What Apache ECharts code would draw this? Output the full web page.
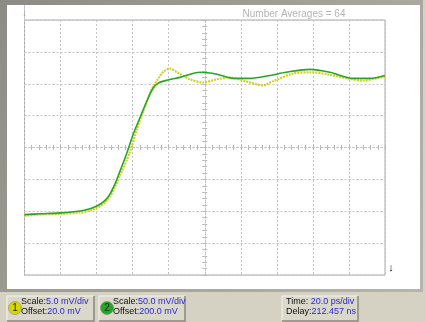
<!DOCTYPE html>
<html><head><meta charset="utf-8">
<script src="https://cdn.jsdelivr.net/npm/echarts@6/dist/echarts.min.js"></script>
<style>html,body{margin:0;padding:0;background:#d5d2c4;}#c{width:426px;height:322px;}</style>
</head><body><div id="c"></div>
<script>
// Time axis (ps), 20 ps/div, 10 divisions
const timePs = [0, 8.6, 19.7, 30.8, 36.3, 39.1, 41.9, 44.7, 47.4, 50.2, 53, 56.9, 60.2, 64.1, 67.9, 71.3, 74, 79, 86.3, 97.4, 106.8, 115.7, 125.1, 136.2, 145.1, 158.4, 169.5, 182.3, 191.7, 200];
// Channel 2 (green), mV — 50 mV/div, offset 200 mV
const ch2mV = [94.7, 96, 97.5, 100.5, 104, 107, 111, 117, 127, 143, 163, 192, 220, 247, 273, 293, 300.6, 305.5, 310, 318, 315, 308.5, 308.5, 313, 318, 322.6, 318, 308.5, 308.5, 313];
// Channel 1 (yellow)
const timePs1 = [0, 8.6, 19.7, 30.8, 36.3, 39.1, 41.9, 44.7, 47.4, 50.2, 53, 58.5, 62.4, 66.9, 70.7, 73.5, 76.8, 80.7, 84.6, 91.8, 99, 106.8, 114, 121.2, 129, 132.3, 137.9, 149, 158.4, 167.8, 178.9, 187.8, 198.9, 200];
// mV — 5 mV/div, offset 20 mV
const ch1mV = [9.3, 9.5, 9.6, 9.8, 10.1, 10.4, 10.8, 11.4, 12.3, 13.8, 15.6, 19.3, 22.9, 26.5, 29.2, 30.5, 31.8, 32.4, 31.8, 30.7, 30.2, 30.7, 31, 30.5, 29.9, 29.75, 30.4, 31.6, 31.8, 31.5, 30.85, 30.5, 31, 31];

const ch1Label = ['Scale:', '5.0 mV/div', 'Offset:', '20.0 mV'];
const ch2Label = ['Scale:', '50.0 mV/div', 'Offset:', '200.0 mV'];
const timeLabel = ['Time: ', '20.0 ps/div', 'Delay:', '212.457 ns'];
const titleText = 'Number Averages = 64';

const chart = echarts.init(document.getElementById('c'), null, {renderer: 'canvas'});
const pair = (xs, ys) => xs.map((x, i) => [x, ys[i]]);
const FONT = 'Liberation Sans, Arial, sans-serif';
const dashGrid = {show: true, lineStyle: {color: '#c4c4c4', type: [2, 2], width: 1}};

function button(x, w, circleColor, circleText, lbl) {
  const els = [
    {type: 'rect', shape: {x: x, y: 296, width: w, height: 25}, style: {fill: '#dad7cb', stroke: null}},
    {type: 'polyline', shape: {points: [[x, 321], [x, 296], [x + w, 296]]}, style: {stroke: '#f4f3ee', lineWidth: 1, fill: null}},
    {type: 'polyline', shape: {points: [[x, 321], [x + w, 321], [x + w, 296]]}, style: {stroke: '#8a887e', lineWidth: 1.5, fill: null}}
  ];
  let tx = x + 4;
  if (circleColor) {
    els.push({type: 'circle', shape: {cx: x + 8, cy: 308, r: 6.5}, style: {fill: circleColor, stroke: '#777', lineWidth: 0.5}});
    els.push({type: 'text', style: {x: x + 8, y: 308.5, text: circleText, fill: '#222', font: '10px ' + FONT, align: 'center', verticalAlign: 'middle'}});
    tx = x + 14;
  }
  els.push({type: 'text', style: {x: tx, y: 297, text: '{k|' + lbl[0] + '}{v|' + lbl[1] + '}\n{k|' + lbl[2] + '}{v|' + lbl[3] + '}',
    verticalAlign: 'top', lineHeight: 10,
    rich: {k: {fill: '#111', font: '9px ' + FONT, lineHeight: 10}, v: {fill: '#2a2ad0', font: '9px ' + FONT, lineHeight: 10}}}});
  return els;
}

const graphics = [
  {type: 'rect', shape: {x: 0, y: 0, width: 423, height: 292}, style: {fill: new echarts.graphic.LinearGradient(0, 0, 1, 1, [{offset: 0, color: '#8d8c84'}, {offset: 1, color: '#b8b6ac'}])}, z: -10},
  {type: 'rect', shape: {x: 7, y: 5, width: 413, height: 284}, style: {fill: '#ffffff'}, z: -9},
  {type: 'text', style: {x: 294, y: 14, text: titleText, fill: '#b4b4b4', font: '10px ' + FONT, align: 'center', verticalAlign: 'middle'}},
  {type: 'line', shape: {x1: 24.5, y1: 5, x2: 24.5, y2: 20}, style: {stroke: '#c8c8c8', lineWidth: 1}},
  {type: 'text', style: {x: 24.5, y: 14, text: '↓', fill: '#9a9a9a', font: '9px ' + FONT, align: 'center', verticalAlign: 'middle'}},
  {type: 'text', style: {x: 391, y: 268, text: '↓', fill: '#222', font: '11px ' + FONT, align: 'center', verticalAlign: 'middle'}}
].concat(button(7, 87, '#d6d600', '1', ch1Label))
 .concat(button(99, 86, '#22a822', '2', ch2Label))
 .concat(button(282, 76, null, '', timeLabel));

const tickStyle = {color: '#b8b8b8'};

chart.setOption({
  animation: false,
  backgroundColor: 'transparent',
  grid: {left: 24.5, top: 20, right: 41, bottom: 47, show: true, backgroundColor: '#fff', borderColor: '#a9a9a2', borderWidth: 1},
  xAxis: [
    {type: 'value', min: 0, max: 200, interval: 20, axisLine: {show: false}, axisTick: {show: false}, axisLabel: {show: false}, splitLine: dashGrid},
    {type: 'value', min: -100, max: 100, interval: 20, axisLine: {show: true, onZero: true, onZeroAxisIndex: 2, lineStyle: {color: '#c4c4c4', type: [2, 2]}},
      axisTick: {show: true, inside: true, length: 2.5, lineStyle: tickStyle}, minorTick: {show: true, splitNumber: 5, length: 2.5, lineStyle: tickStyle}, axisLabel: {show: false}, splitLine: {show: false}},
    {type: 'value', min: -100, max: 100, interval: 20, axisLine: {show: false, onZero: true, onZeroAxisIndex: 2},
      axisTick: {show: true, inside: false, length: 2.5, lineStyle: tickStyle}, minorTick: {show: true, splitNumber: 5, length: 2.5, lineStyle: tickStyle}, axisLabel: {show: false}, splitLine: {show: false}}
  ],
  yAxis: [
    {type: 'value', min: 0, max: 40, interval: 5, axisLine: {show: false}, axisTick: {show: false}, axisLabel: {show: false}, splitLine: dashGrid},
    {type: 'value', min: 0, max: 400, interval: 50, show: false},
    {type: 'value', min: -4, max: 4, interval: 1, axisLine: {show: true, onZero: true, onZeroAxisIndex: 1, lineStyle: {color: '#c4c4c4', type: [2, 2]}},
      axisTick: {show: true, inside: true, length: 2.5, lineStyle: tickStyle}, minorTick: {show: true, splitNumber: 5, length: 2.5, lineStyle: tickStyle}, axisLabel: {show: false}, splitLine: {show: false}},
    {type: 'value', min: -4, max: 4, interval: 1, axisLine: {show: false, onZero: true, onZeroAxisIndex: 1},
      axisTick: {show: true, inside: false, length: 2.5, lineStyle: tickStyle}, minorTick: {show: true, splitNumber: 5, length: 2.5, lineStyle: tickStyle}, axisLabel: {show: false}, splitLine: {show: false}}
  ],
  series: [
    {type: 'line', name: 'Ch1', xAxisIndex: 0, yAxisIndex: 0, data: pair(timePs1, ch1mV), smooth: 0.3, showSymbol: false,
      lineStyle: {color: '#d2d21e', width: 2.2, type: [2, 1]}, z: 3},
    {type: 'line', name: 'Ch2', xAxisIndex: 0, yAxisIndex: 1, data: pair(timePs, ch2mV), smooth: 0.3, showSymbol: false,
      lineStyle: {color: '#26a626', width: 1.6}, z: 4}
  ],
  graphic: graphics
});
</script></body></html>
